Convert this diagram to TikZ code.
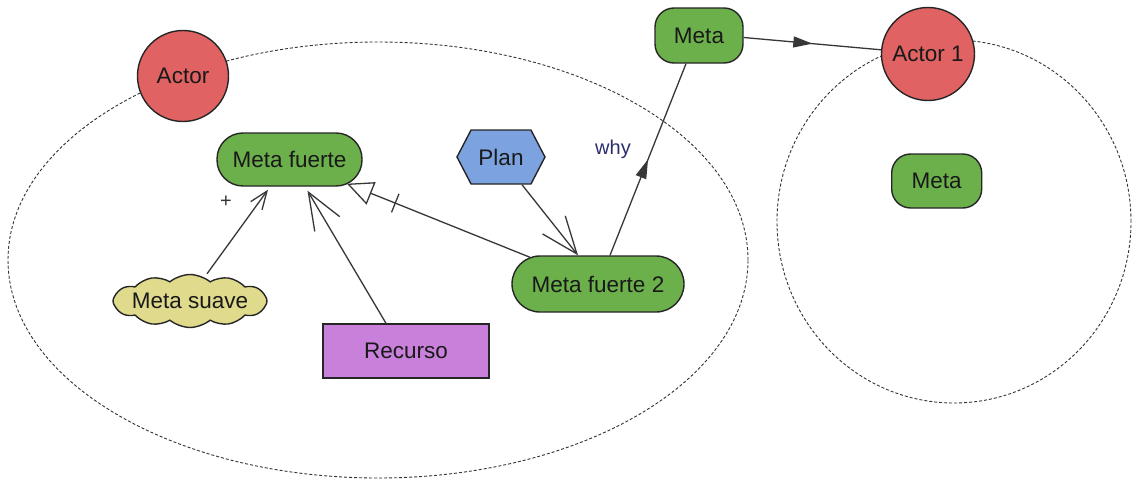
\documentclass[tikz,border=0pt]{standalone}
\usepackage{fontspec}
\setmainfont{Liberation Sans}
\usetikzlibrary{arrows.meta,shapes.symbols,decorations.markings}

\definecolor{goalgreen}{RGB}{108,176,76}
\definecolor{actorred}{RGB}{224,98,98}
\definecolor{planblue}{RGB}{124,162,224}
\definecolor{softyellow}{RGB}{224,218,140}
\definecolor{resviolet}{RGB}{200,128,218}
\definecolor{linkgray}{RGB}{55,55,55}
\definecolor{whyblue}{RGB}{45,45,110}

\tikzset{
  lbl/.style={font=\fontsize{22.5}{26}\selectfont, text=black!90, inner sep=0pt},
  shapeline/.style={draw=black!85, line width=1.4pt},
  actor/.style={lbl, shapeline, circle, fill=actorred, minimum size=91pt},
  goal/.style={lbl, shapeline, rectangle, rounded corners=#1, fill=goalgreen},
  softgoal/.style={lbl, shapeline, cloud, cloud puffs=12, cloud puff arc=80,
    cloud ignores aspect, fill=softyellow, minimum width=154pt, minimum height=53pt},
  task/.style={lbl, shapeline, signal, signal to=west and east,
    signal pointer angle=125, fill=planblue, minimum width=88pt, minimum height=54pt},
  resource/.style={lbl, shapeline, rectangle, fill=resviolet,
    minimum width=166pt, minimum height=54pt},
  boundary/.style={draw=black!80, line width=0.9pt, dash pattern=on 3pt off 2pt},
  link/.style={draw=linkgray, line width=1.3pt},
  means/.style={link, -{Straight Barb[length=37pt,width=29pt,line width=1.3pt]}},
  contrib/.style={link, -{Straight Barb[length=18pt,width=14pt,line width=1.3pt]}},
  refine/.style={link, -{Triangle[open,length=26pt,width=24pt,fill=white,line width=1.3pt]},
    postaction={decorate}, decoration={markings,
      mark=at position -52pt with {\draw[arrows=-,line width=1.3pt,linkgray] (0pt,-10pt) -- (0pt,10pt);}}},
  dep/.style={link, postaction={decorate}, decoration={markings,
      mark=at position 0.5 with {\arrow{Triangle[length=19pt,width=11pt]}}}},
}

\begin{document}
\begin{tikzpicture}[x=1pt,y=-1pt]
\useasboundingbox (0,0) rectangle (1133,479);
\fill[white] (0,0) rectangle (1133,479);

% actor boundaries
\draw[boundary] (378,260) ellipse [x radius=370pt, y radius=218pt];
\draw[boundary] (954,221.5) ellipse [x radius=177pt, y radius=181.5pt];

% actors
\node[actor] (actor) at (183,76) {Actor};
\node[actor, minimum size=93pt] (actor1) at (928,54) {Actor 1};

% elements of Actor
\node[goal=26pt, minimum width=145pt, minimum height=53pt] (fuerte) at (289.5,159.5) {Meta fuerte};
\node[goal=28pt, minimum width=172pt, minimum height=56pt] (fuerte2) at (598,284) {Meta fuerte 2};
\node[task] (plan) at (501,157) {Plan};
\node[softgoal] (suave) at (190,301) {\makebox[0pt]{Meta suave}};
\node[resource] (recurso) at (406,351) {Recurso};

% dependum and element of Actor 1
\node[goal=19pt, minimum width=88pt, minimum height=55pt] (meta) at (699,35.5) {Meta};
\node[goal=19pt, minimum width=90pt, minimum height=54pt] (meta1) at (936.7,181) {Meta};

% links
\draw[contrib] ([xshift=17pt]suave.north) -- ([xshift=-21.5pt,yshift=-3pt]fuerte.south);
\draw[means] ([xshift=-20pt]recurso.north) -- ([xshift=18pt,yshift=-4pt]fuerte.south);
\draw[means] ([xshift=21pt]plan.south) -- ([xshift=-20pt]fuerte2.north);
\draw[refine] ([xshift=-68pt,yshift=-2pt]fuerte2.north) -- ([xshift=57.5pt,yshift=3pt]fuerte.south);
\draw[dep] ([xshift=12pt]fuerte2.north) -- ([xshift=-13pt]meta.south);
\draw[dep] ([yshift=-2pt]meta.east) -- (actor1);

% link labels
\node[lbl, font=\fontsize{20}{24}\selectfont, text=whyblue] (why) at (613,149) {why};
\node[lbl, font=\fontsize{20}{24}\selectfont, text=black!80] (plus) at (226,202) {+};
\end{tikzpicture}
\end{document}
